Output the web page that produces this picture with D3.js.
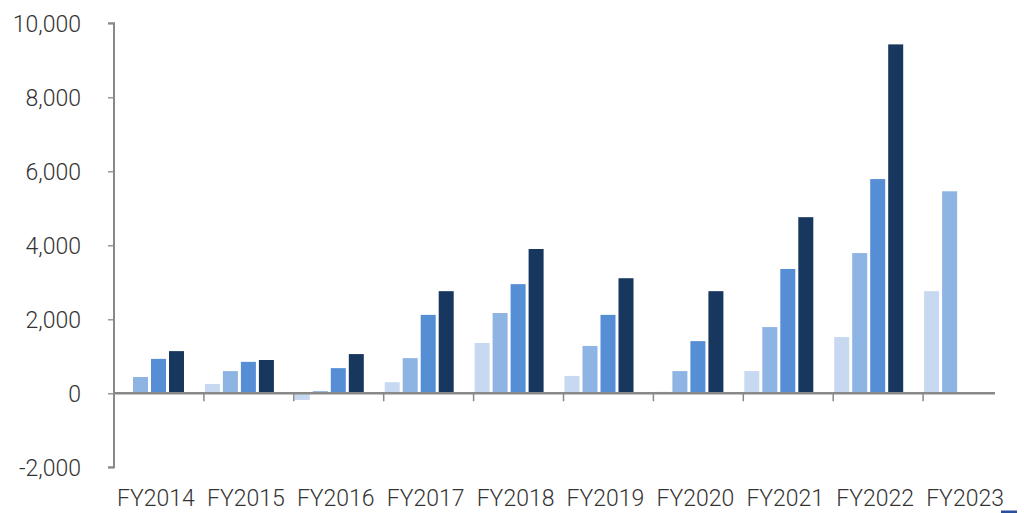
<!DOCTYPE html>
<html><head><meta charset="utf-8">
<script src="https://cdn.jsdelivr.net/npm/d3@7"></script>
<style>html,body{margin:0;padding:0;background:#fff;}svg{display:block;}</style>
</head><body>
<svg id="chart" width="1024" height="513"></svg>
<script>
const categories = ["FY2014","FY2015","FY2016","FY2017","FY2018","FY2019","FY2020","FY2021","FY2022","FY2023"];
const seriesNames = ["Q1","Q2","Q3","Q4"];
const q1 = [null, 250, -180, 300, 1360, 470, 40, 600, 1520, 2760];
const q2 = [440, 600, 60, 950, 2170, 1280, 600, 1790, 3790, 5460];
const q3 = [930, 850, 680, 2120, 2950, 2120, 1410, 3360, 5790, null];
const q4 = [1140, 900, 1060, 2760, 3900, 3110, 2760, 4760, 9430, null];
const yTicks = [-2000, 0, 2000, 4000, 6000, 8000, 10000];
const colors = ["#c6d9f1", "#8eb4e3", "#558ed5", "#17375e"];

const series = [q1, q2, q3, q4];
const svg = d3.select("#chart");
const font = "Roboto, 'Noto Sans', sans-serif";
const mLeft = 114, catW = 89.9, mTop = 23.3, mBottom = 467.3;

const x = d3.scaleBand().domain(categories).range([mLeft, mLeft + catW * categories.length]).padding(0);
const y = d3.scaleLinear().domain([-2000, 10000]).range([mBottom, mTop]);

const axisColor = "#898989";
const textColor = "#333333";

// bars
series.forEach((vals, si) => {
  svg.append("g").selectAll("rect")
    .data(vals.map((v, i) => ({v, c: categories[i]})).filter(d => d.v !== null))
    .join("rect")
    .attr("x", d => x(d.c) + 1 + si * 18)
    .attr("width", 15)
    .attr("y", d => y(Math.max(0, d.v)))
    .attr("height", d => Math.abs(y(d.v) - y(0)))
    .attr("fill", colors[si]);
});

// y axis
const fmt = d3.format(",");
const yAxis = d3.axisLeft(y).tickValues(yTicks).tickSize(6).tickPadding(27)
  .tickFormat(d => fmt(d).replace("\u2212", "-"));
const gy = svg.append("g").attr("transform", `translate(${mLeft},0)`).call(yAxis);
gy.select(".domain").attr("stroke", axisColor).attr("stroke-width", 2).attr("d", `M-6,${mTop}H0V${mBottom}H-6`);
gy.selectAll(".tick line").attr("stroke", axisColor).attr("stroke-width", 1.3);
gy.selectAll(".tick text").attr("fill", textColor).attr("dy", "0.34em")
  .style("font-family", font).style("font-size", "23px").style("font-weight", 300);

// x axis at zero
const xAxis = d3.axisBottom(x).tickSize(0).tickFormat(d => d);
const gx = svg.append("g").attr("transform", `translate(0,${y(0)})`).call(xAxis);
gx.select(".domain").attr("stroke", axisColor).attr("stroke-width", 2.5).attr("d", `M${mLeft},0H995`);
gx.selectAll(".tick text").remove();
// category boundary ticks
svg.append("g").selectAll("line")
  .data(categories.slice(1))
  .join("line")
  .attr("x1", d => x(d)).attr("x2", d => x(d))
  .attr("y1", y(0)).attr("y2", y(0) + 8)
  .attr("stroke", axisColor).attr("stroke-width", 1.5);

// category labels at bottom
svg.append("g").selectAll("text")
  .data(categories)
  .join("text")
  .attr("x", d => x(d) + x.bandwidth() / 2 - 3)
  .attr("y", 506)
  .attr("text-anchor", "middle")
  .attr("fill", textColor)
  .style("font-family", font)
  .style("font-size", "23px")
  .style("font-weight", 300)
  .text(d => d);

// partially visible legend marker at bottom-right
svg.append("rect").attr("x", 1001).attr("y", 510.5).attr("width", 16).attr("height", 2.5).attr("fill", "#2a4f9c");
</script>
</body></html>
